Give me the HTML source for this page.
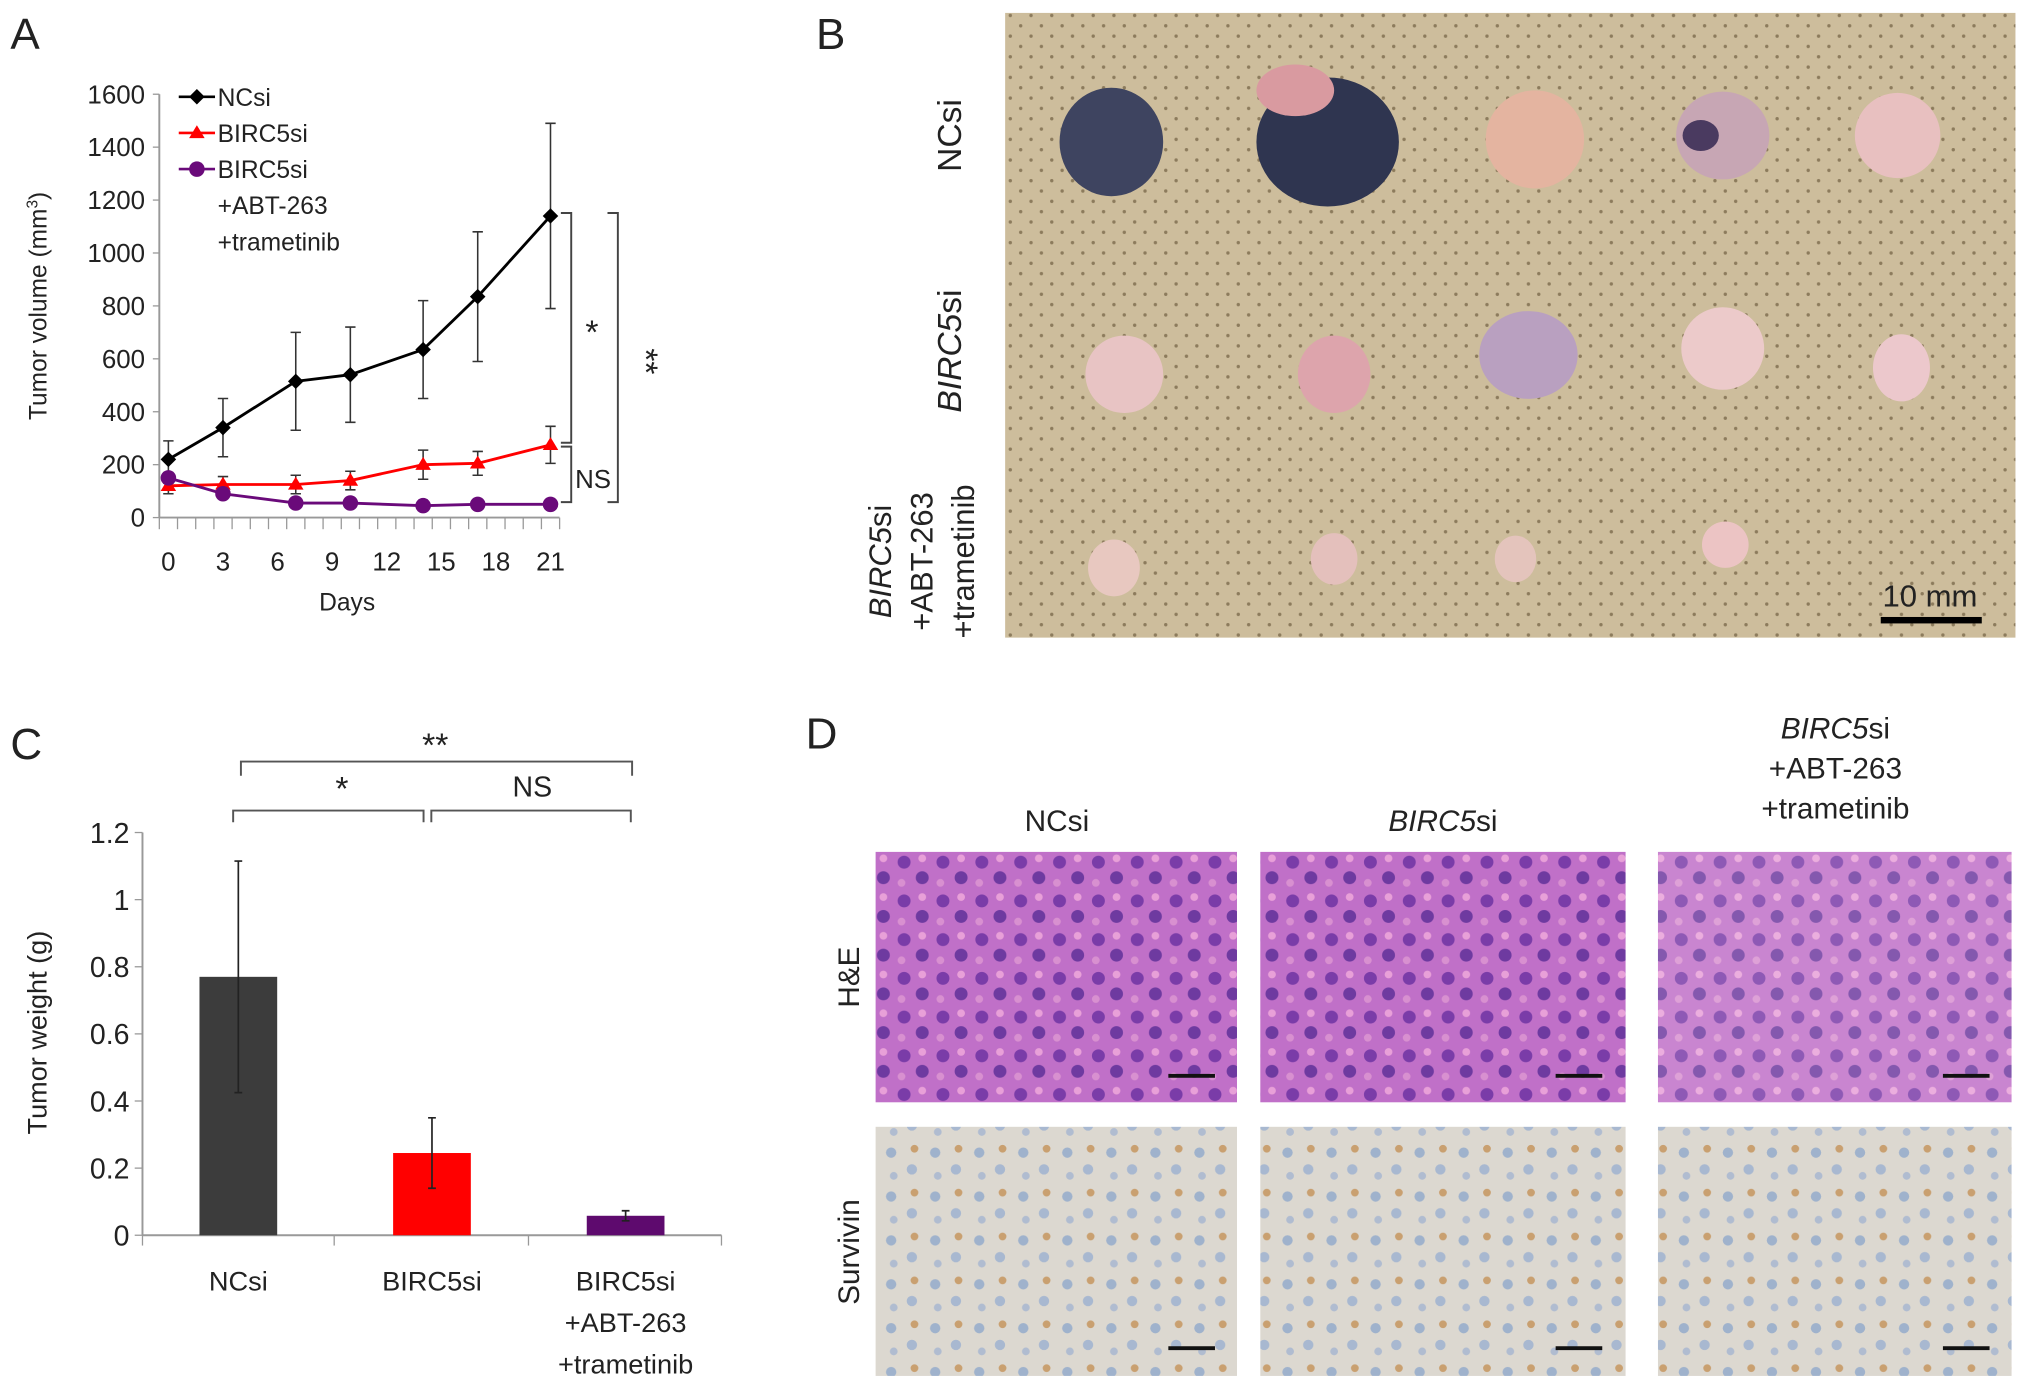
<!DOCTYPE html>
<html><head><meta charset="utf-8"><style>
html,body{margin:0;padding:0;background:#fff}
svg{display:block}
text{font-family:"Liberation Sans",sans-serif;fill:#222}
</style></head><body>
<svg id="fig" width="2031" height="1394" viewBox="0 0 1568 1080" preserveAspectRatio="none" xmlns="http://www.w3.org/2000/svg">
<defs>
<pattern id="dots" width="16" height="16" patternUnits="userSpaceOnUse"><rect width="16" height="16" fill="#cdbd9c"/><circle cx="4" cy="4" r="1.3" fill="#8c7b5c"/><circle cx="12" cy="12" r="1.3" fill="#8c7b5c"/></pattern>
<pattern id="he" width="30" height="30" patternUnits="userSpaceOnUse"><rect width="30" height="30" fill="#c070c8"/><circle cx="8" cy="8" r="5" fill="#7a3ca8"/><circle cx="22" cy="20" r="5" fill="#6e3aa0"/><circle cx="22" cy="5" r="3" fill="#e8a0d8"/><circle cx="6" cy="24" r="3" fill="#d890d0"/></pattern>
<pattern id="surv" width="34" height="34" patternUnits="userSpaceOnUse"><rect width="34" height="34" fill="#dcd8d0"/><circle cx="8" cy="9" r="4" fill="#9fb2cc"/><circle cx="24" cy="22" r="4" fill="#a8b8d0"/><circle cx="26" cy="6" r="3" fill="#c9a070"/><circle cx="10" cy="27" r="3" fill="#b0bcd0"/></pattern>
</defs>
<g id="panelA">
<text x="8" y="38" font-size="34">A</text>
<g id="aAxes"></g><g id="aMarks"></g>
<text transform="translate(36,237) rotate(-90)" text-anchor="middle" font-size="19">Tumor volume (mm<tspan dy="-7" font-size="12">3</tspan><tspan dy="7">)</tspan></text>
<text x="268" y="473" text-anchor="middle" font-size="19">Days</text>
<g font-size="19">
<line x1="138" y1="75" x2="166" y2="75" stroke="#000" stroke-width="2"/><path d="M152 69l6 6-6 6-6-6z" fill="#000"/><text x="168" y="82">NCsi</text>
<line x1="138" y1="103" x2="166" y2="103" stroke="#f00" stroke-width="2"/><path d="M152 97l6 10h-12z" fill="#f00"/><text x="168" y="110">BIRC5si</text>
<line x1="138" y1="131" x2="166" y2="131" stroke="#6a0a7a" stroke-width="2"/><circle cx="152" cy="131" r="6" fill="#6a0a7a"/><text x="168" y="138">BIRC5si</text>
<text x="168" y="166">+ABT-263</text><text x="168" y="194">+trametinib</text>
</g>
<g fill="none" stroke="#444" stroke-width="1.5">
<path d="M433 165h8v178h-8"/><path d="M433 346h8v43h-8"/><path d="M469 165h8v224h-8"/>
</g>
<text x="457" y="266" font-size="26" text-anchor="middle">*</text>
<text transform="translate(490,280) rotate(90)" font-size="26" text-anchor="middle">**</text>
<text x="444" y="378" font-size="20">NS</text>
</g>

<g id="panelB">
<text x="630" y="38" font-size="34">B</text>
<rect x="776" y="10" width="780" height="484" fill="url(#dots)"/>
<g>
<ellipse cx="858" cy="110" rx="40" ry="42" fill="#3e4460"/><ellipse cx="1025" cy="110" rx="55" ry="50" fill="#2f3550"/><ellipse cx="1000" cy="70" rx="30" ry="20" fill="#d99aa0"/>
<ellipse cx="1185" cy="108" rx="38" ry="38" fill="#e4b4a0"/><ellipse cx="1330" cy="105" rx="36" ry="34" fill="#c7a6b4"/><ellipse cx="1313" cy="105" rx="14" ry="12" fill="#4a3a60"/><ellipse cx="1465" cy="105" rx="33" ry="33" fill="#e8c0c0"/>
<ellipse cx="868" cy="290" rx="30" ry="30" fill="#e8c4c4"/><ellipse cx="1030" cy="290" rx="28" ry="30" fill="#dda4ac"/><ellipse cx="1180" cy="275" rx="38" ry="34" fill="#b9a0c0"/><ellipse cx="1330" cy="270" rx="32" ry="32" fill="#eccaca"/><ellipse cx="1468" cy="285" rx="22" ry="26" fill="#ecc8cc"/>
<ellipse cx="860" cy="440" rx="20" ry="22" fill="#e8c8c0"/><ellipse cx="1030" cy="433" rx="18" ry="20" fill="#e4c0bc"/><ellipse cx="1170" cy="433" rx="16" ry="18" fill="#e4c4bc"/><ellipse cx="1332" cy="422" rx="18" ry="18" fill="#ecc4c4"/>
</g>
<text transform="translate(742,105) rotate(-90)" font-size="26" text-anchor="middle">NCsi</text>
<text transform="translate(742,272) rotate(-90)" font-size="26" text-anchor="middle" font-style="italic">BIRC5<tspan font-style="normal">si</tspan></text>
<text transform="translate(688,435) rotate(-90)" font-size="24" text-anchor="middle"><tspan x="0" font-style="italic">BIRC5</tspan><tspan>si</tspan><tspan x="0" dy="32">+ABT-263</tspan><tspan x="0" dy="32">+trametinib</tspan></text>
<text x="1490" y="470" font-size="24" text-anchor="middle">10 mm</text>
<rect x="1452" y="478" width="78" height="5" fill="#000"/>
</g>

<g id="panelC">
<text x="8" y="588" font-size="34">C</text>
<g id="cAxes"></g><g id="cMarks"></g>
<text transform="translate(36,800) rotate(-90)" text-anchor="middle" font-size="21">Tumor weight (g)</text>
<g fill="none" stroke="#555" stroke-width="1.5">
<path d="M186 601v-11h302v11"/><path d="M180 637v-9h147v9"/><path d="M333 637v-9h154v9"/>
</g>
<text x="336" y="586" font-size="26" text-anchor="middle">**</text>
<text x="264" y="620" font-size="26" text-anchor="middle">*</text>
<text x="411" y="617" font-size="22" text-anchor="middle">NS</text>
</g>

<g id="panelD">
<text x="622" y="580" font-size="34">D</text>
<text x="816" y="644" font-size="23" text-anchor="middle">NCsi</text>
<text x="1114" y="644" font-size="23" text-anchor="middle"><tspan font-style="italic">BIRC5</tspan>si</text>
<text x="1417" y="572" font-size="23" text-anchor="middle"><tspan font-style="italic">BIRC5</tspan>si<tspan x="1417" dy="31">+ABT-263</tspan><tspan x="1417" dy="31">+trametinib</tspan></text>
<text transform="translate(663,757) rotate(-90)" font-size="23" text-anchor="middle">H&amp;E</text>
<text transform="translate(663,970) rotate(-90)" font-size="23" text-anchor="middle">Survivin</text>
<rect x="676" y="660" width="279" height="194" fill="url(#he)"/>
<rect x="973" y="660" width="282" height="194" fill="url(#he)"/>
<rect x="1280" y="660" width="273" height="194" fill="url(#he)" opacity="0.85"/>
<rect x="676" y="873" width="279" height="193" fill="url(#surv)"/>
<rect x="973" y="873" width="282" height="193" fill="url(#surv)"/>
<rect x="1280" y="873" width="273" height="193" fill="url(#surv)"/>
<g fill="#111">
<rect x="902" y="832" width="36" height="3"/><rect x="1201" y="832" width="36" height="3"/><rect x="1500" y="832" width="36" height="3"/>
<rect x="902" y="1043" width="36" height="3"/><rect x="1201" y="1043" width="36" height="3"/><rect x="1500" y="1043" width="36" height="3"/>
</g>
</g>
</svg>
<script>
// Panel A data
const days=[0,3,7,10,14,17,21];
const ncsiVals=[220,340,515,540,635,835,1140];
const ncsiErr=[70,110,185,180,185,245,350];
const bircVals=[120,125,125,140,200,205,275];
const bircErr=[30,30,35,35,55,45,70];
const comboVals=[150,90,55,55,45,50,50];
const comboErr=[20,15,10,10,8,8,8];
const aYTicks=[0,200,400,600,800,1000,1200,1400,1600];
const aXTicks=[0,3,6,9,12,15,18,21];
// Panel C data
const cCats=["NCsi","BIRC5si","BIRC5si|+ABT-263|+trametinib"];
const cVals=[0.77,0.245,0.058];
const cErr=[0.345,0.105,0.015];
const cYTicks=[0,0.2,0.4,0.6,0.8,1,1.2];
const cColors=["#3c3c3c","#ff0000","#5e0a6e"];

const NS="http://www.w3.org/2000/svg";
function mk(tag,attrs,parent){const e=document.createElementNS(NS,tag);for(const k in attrs)e.setAttribute(k,attrs[k]);parent.appendChild(e);return e;}
const ax=d=>130+d*(295/21);
const ay=v=>401-v*(328/1600);
const aAx=document.getElementById('aAxes'), aM=document.getElementById('aMarks');
let l=mk('line',{x1:123,y1:73,x2:123,y2:401,stroke:'#999','stroke-width':1.5},aAx);


l=mk('line',{x1:123,y1:401,x2:432,y2:401,stroke:'#999','stroke-width':1.5},aAx);


aYTicks.forEach(v=>{mk('line',{x1:118,y1:ay(v),x2:123,y2:ay(v),stroke:'#999'},aAx);
 const t=mk('text',{x:112,y:ay(v)+7,'text-anchor':'end','font-size':20},aAx);t.textContent=v;
 
 });
for(let d=0;d<=22;d++){mk('line',{x1:ax(d)-7,y1:401,x2:ax(d)-7,y2:410,stroke:'#999'},aAx);}
aXTicks.forEach(d=>{const t=mk('text',{x:ax(d),y:442,'text-anchor':'middle','font-size':20},aAx);t.textContent=d;
 
 });
function series(vals,err,color,shape,name){
 const g=mk('g',{},aM);
 
 
 days.forEach((d,i)=>{const x=ax(d);mk('path',{d:`M${x} ${ay(vals[i]+err[i])}V${ay(Math.max(0,vals[i]-err[i]))}M${x-4} ${ay(vals[i]+err[i])}h8M${x-4} ${ay(Math.max(0,vals[i]-err[i]))}h8`,stroke:'#333','stroke-width':1.2,fill:'none'},g);});
 mk('polyline',{points:days.map((d,i)=>ax(d)+','+ay(vals[i])).join(' '),fill:'none',stroke:color,'stroke-width':2.2},g);
 days.forEach((d,i)=>{const x=ax(d),y=ay(vals[i]);let m;
  if(shape==='d')m=mk('path',{d:`M${x} ${y-6}l6 6-6 6-6-6z`,fill:color},g);
  else if(shape==='t')m=mk('path',{d:`M${x} ${y-6}l6 10h-12z`,fill:color},g);
  else m=mk('circle',{cx:x,cy:y,r:6,fill:color},g);
  
  });
}
series(ncsiVals,ncsiErr,'#000','d','series-ncsi');
series(bircVals,bircErr,'#f00','t','series-birc5si');
series(comboVals,comboErr,'#6a0a7a','c','series-combo');

// Panel C
const cy=v=>957-v*(312/1.2);
const cx=i=>184+i*149.5;
const cAx=document.getElementById('cAxes'), cM=document.getElementById('cMarks');
l=mk('line',{x1:110,y1:645,x2:110,y2:957,stroke:'#999','stroke-width':1.5},cAx);


l=mk('line',{x1:110,y1:957,x2:557,y2:957,stroke:'#999','stroke-width':1.5},cAx);


[110,258,408,557].forEach(x=>mk('line',{x1:x,y1:957,x2:x,y2:965,stroke:'#999'},cAx));
cYTicks.forEach(v=>{mk('line',{x1:104,y1:cy(v),x2:110,y2:cy(v),stroke:'#999'},cAx);
 const t=mk('text',{x:100,y:cy(v)+8,'text-anchor':'end','font-size':22},cAx);t.textContent=v;
 
 });
cCats.forEach((c,i)=>{const t=mk('text',{x:cx(i),y:1000,'text-anchor':'middle','font-size':21},cAx);
 c.split('|').forEach((s,j)=>{const ts=mk('tspan',{x:cx(i),dy:j?32:0},t);ts.textContent=s;});
 
 });
cVals.forEach((v,i)=>{const r=mk('rect',{x:cx(i)-30,y:cy(v),width:60,height:957-cy(v),fill:cColors[i]},cM);
 
 
 const x=cx(i),t=cy(v+cErr[i]),b=cy(v-cErr[i]);
 const e=mk('path',{d:`M${x} ${t}V${b}M${x-3} ${t}h6M${x-3} ${b}h6`,stroke:'#222','stroke-width':1.3,fill:'none'},cM);
 
 });
</script>
</body></html>
